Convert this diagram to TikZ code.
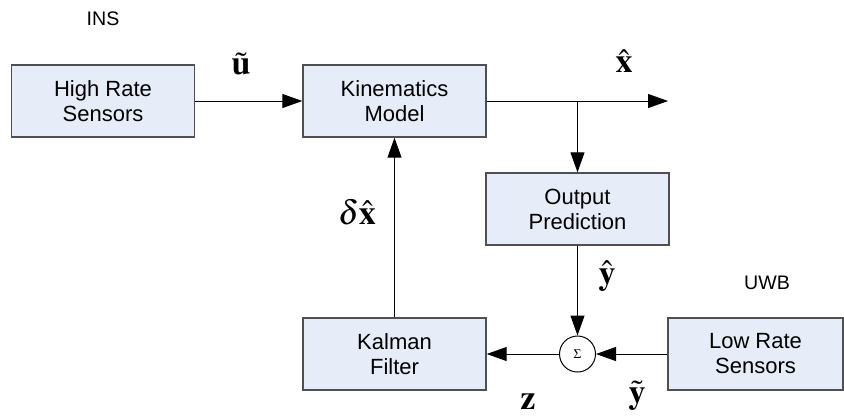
\documentclass[tikz,border=0pt]{standalone}
\usepackage{amsmath}
\usepackage{mathptmx}
\usepackage{fontspec}
\setmainfont{Liberation Serif}
\setsansfont{Liberation Sans}
\usetikzlibrary{arrows.meta,positioning,calc}
\definecolor{boxfill}{RGB}{230,237,248}
\definecolor{boxedge}{RGB}{80,80,80}
\tikzset{
  block/.style={draw=boxedge,line width=0.7pt,fill=boxfill,
    minimum width=91.5pt,minimum height=36pt,align=center,
    font=\sffamily\fontsize{11}{12.5}\selectfont},
  sumnode/.style={circle,draw,line width=0.5pt,fill=white,
    minimum size=18pt,inner sep=0pt,font=\fontsize{6.5}{7}\selectfont},
  sig/.style={font=\fontsize{17}{20}\selectfont},
  tag/.style={font=\sffamily\fontsize{9.8}{11}\selectfont},
  flow/.style={-{Triangle[length=10pt,width=7pt]},line width=0.5pt},
}
\begin{document}
\begin{tikzpicture}[x=0.5pt,y=-0.5pt]
\useasboundingbox (0,0) rectangle (844,419);
% blocks
\node[block] (hrs) at (103,101) {High Rate\\Sensors};
\node[block] (kin) at (394.5,101) {Kinematics\\Model};
\node[block] (out) at (577.5,209) {Output\\Prediction};
\node[block] (kal) at (394.5,354) {Kalman\\Filter};
\node[block,minimum width=87.5pt] (lrs) at (755.5,354) {Low Rate\\Sensors};
\node[sumnode] (sum) at (577.5,354) {$\Sigma$};
\coordinate (xout) at (668,101);
% group tags
\node[tag] (ins) at (103,19) {INS};
\node[tag] (uwb) at (767,283) {UWB};
% signals
\draw[flow] (hrs.east) -- (kin.west);
\draw[flow] (kin.east) -- (xout);
\draw[flow] (kin.east -| out.north) -- (out.north);
\draw[flow] (out.south) -- (sum.north);
\draw[flow] (lrs.west) -- (sum.east);
\draw[flow] (sum.west) -- (kal.east);
\draw[flow] (kal.north) -- (kin.south);
% signal names
\node[sig] (u) at (241,64) {$\tilde{\mathbf{u}}$};
\node[sig] (xh) at (624,61) {$\hat{\mathbf{x}}$};
\node[sig] (dx) at (357,212) {$\delta\hat{\mathbf{x}}$};
\node[sig] (yh) at (607,276) {$\hat{\mathbf{y}}$};
\node[sig] (z) at (528,402) {$\mathbf{z}$};
\node[sig] (yt) at (637,396) {$\tilde{\mathbf{y}}$};
\end{tikzpicture}
\end{document}
